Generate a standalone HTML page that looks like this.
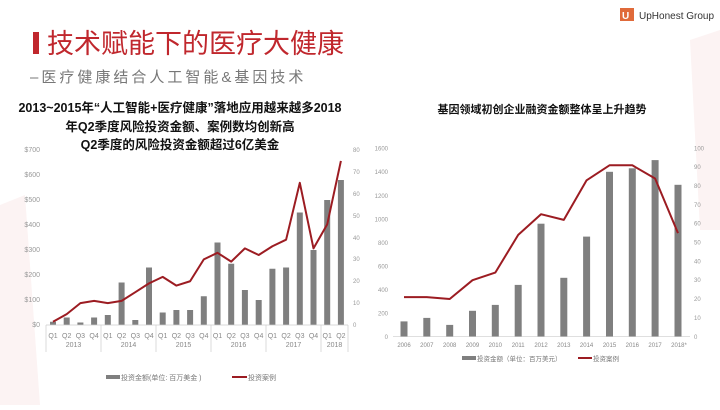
<!DOCTYPE html>
<html><head><meta charset="utf-8"><style>
body{margin:0;width:720px;height:405px;overflow:hidden;background:#fff;font-family:"Liberation Sans","Noto Sans CJK SC",sans-serif}
</style></head><body>
<svg width="720" height="405" viewBox="0 0 720 405" xmlns="http://www.w3.org/2000/svg" font-family="Liberation Sans, Noto Sans CJK SC, sans-serif">
<polygon points="0,405 0,205 25,195 40,405" fill="#fcf3f3"/>
<polygon points="690,40 720,30 720,230 700,230" fill="#fcf3f3"/>
<rect x="33" y="32" width="6" height="22" fill="#c0272d"/>
<text x="47" y="53" font-size="27" fill="#c0272d">技术赋能下的医疗大健康</text>
<text x="30" y="82" font-size="15" fill="#777" letter-spacing="3">–医疗健康结合人工智能&amp;基因技术</text>
<rect x="620" y="8" width="14" height="13" fill="#e06a3a"/>
<text x="622" y="19" font-size="10" fill="#fff" font-weight="bold">U</text>
<text x="639" y="19" font-size="10" fill="#333">UpHonest Group</text>
<g font-size="12.5" fill="#111" text-anchor="middle" font-weight="bold">
<text x="180" y="112">2013~2015年“人工智能+医疗健康”落地应用越来越多2018</text>
<text x="180" y="131">年Q2季度风险投资金额、案例数均创新高</text>
<text x="180" y="149">Q2季度的风险投资金额超过6亿美金</text>
<text x="542" y="113" font-size="11">基因领域初创企业融资金额整体呈上升趋势</text>
</g>
<g font-size="7" fill="#999" text-anchor="end">
<text x="40" y="327">$0</text><text x="40" y="302">$100</text><text x="40" y="277">$200</text><text x="40" y="252">$300</text><text x="40" y="227">$400</text><text x="40" y="202">$500</text><text x="40" y="177">$600</text><text x="40" y="152">$700</text>
</g>
<g font-size="6" fill="#999">
<text x="353" y="327">0</text><text x="353" y="305">10</text><text x="353" y="283">20</text><text x="353" y="261">30</text><text x="353" y="240">40</text><text x="353" y="218">50</text><text x="353" y="196">60</text><text x="353" y="174">70</text><text x="353" y="152">80</text>
</g>
<g fill="#7f7f7f">
<rect x="50" y="321.75" width="6" height="3.25"/><rect x="63.7" y="317.5" width="6" height="7.5"/><rect x="77.4" y="322.5" width="6" height="2.5"/><rect x="91.1" y="317.5" width="6" height="7.5"/><rect x="104.8" y="315" width="6" height="10"/><rect x="118.6" y="282.5" width="6" height="42.5"/><rect x="132.3" y="320" width="6" height="5"/><rect x="146" y="267.5" width="6" height="57.5"/><rect x="159.7" y="312.5" width="6" height="12.5"/><rect x="173.4" y="310" width="6" height="15"/><rect x="187.1" y="310" width="6" height="15"/><rect x="200.8" y="296.25" width="6" height="28.75"/><rect x="214.5" y="242.5" width="6" height="82.5"/><rect x="228.2" y="263.75" width="6" height="61.25"/><rect x="241.9" y="290" width="6" height="35"/><rect x="255.7" y="300" width="6" height="25"/><rect x="269.4" y="268.75" width="6" height="56.25"/><rect x="283.1" y="267.5" width="6" height="57.5"/><rect x="296.8" y="212.5" width="6" height="112.5"/><rect x="310.5" y="250" width="6" height="75"/><rect x="324.2" y="200" width="6" height="125"/><rect x="337.9" y="180" width="6" height="145"/>
</g>
<polyline fill="none" stroke="#9c1c22" stroke-width="2" stroke-linejoin="round" points="53,321.7 66.7,314.1 80.4,303.1 94.1,300.9 107.8,303.1 121.6,300.9 135.3,292.2 149,283.4 162.7,276.9 176.4,285.6 190.1,281.25 203.8,259.4 217.5,252.8 231.2,261.6 244.9,248.4 258.7,255 272.4,246.25 286.1,239.7 299.8,182.8 313.5,248.4 327.2,224.4 340.9,160.9"/>
<line x1="46" y1="325" x2="348" y2="325" stroke="#ccc" stroke-width="0.7"/>
<g stroke="#ccc" stroke-width="0.7">
<line x1="46" y1="325" x2="46" y2="352"/><line x1="101" y1="325" x2="101" y2="352"/><line x1="156" y1="325" x2="156" y2="352"/><line x1="211" y1="325" x2="211" y2="352"/><line x1="266" y1="325" x2="266" y2="352"/><line x1="321" y1="325" x2="321" y2="352"/><line x1="348" y1="325" x2="348" y2="352"/>
</g>
<g font-size="7" fill="#888" text-anchor="middle">
<text x="53" y="338">Q1</text><text x="66.7" y="338">Q2</text><text x="80.4" y="338">Q3</text><text x="94.1" y="338">Q4</text><text x="107.8" y="338">Q1</text><text x="121.6" y="338">Q2</text><text x="135.3" y="338">Q3</text><text x="149" y="338">Q4</text><text x="162.7" y="338">Q1</text><text x="176.4" y="338">Q2</text><text x="190.1" y="338">Q3</text><text x="203.8" y="338">Q4</text><text x="217.5" y="338">Q1</text><text x="231.2" y="338">Q2</text><text x="244.9" y="338">Q3</text><text x="258.7" y="338">Q4</text><text x="272.4" y="338">Q1</text><text x="286.1" y="338">Q2</text><text x="299.8" y="338">Q3</text><text x="313.5" y="338">Q4</text><text x="327.2" y="338">Q1</text><text x="340.9" y="338">Q2</text>
<text x="73.5" y="347">2013</text><text x="128.5" y="347">2014</text><text x="183.5" y="347">2015</text><text x="238.5" y="347">2016</text><text x="293.5" y="347">2017</text><text x="334.5" y="347">2018</text>
</g>
<rect x="106" y="375" width="14" height="4" fill="#7f7f7f"/>
<text x="121" y="380" font-size="7" fill="#777">投资金额(单位: 百万美金 )</text>
<line x1="232" y1="377" x2="247" y2="377" stroke="#9c1c22" stroke-width="2"/>
<text x="248" y="380" font-size="7" fill="#777">投资案例</text>
<g font-size="6" fill="#999" text-anchor="end">
<text x="388" y="339">0</text><text x="388" y="315.5">200</text><text x="388" y="292">400</text><text x="388" y="268.4">600</text><text x="388" y="244.9">800</text><text x="388" y="221.3">1000</text><text x="388" y="197.8">1200</text><text x="388" y="174.2">1400</text><text x="388" y="150.7">1600</text>
</g>
<g font-size="6" fill="#999">
<text x="694" y="339">0</text><text x="694" y="320">10</text><text x="694" y="301">20</text><text x="694" y="282.2">30</text><text x="694" y="263.4">40</text><text x="694" y="244.5">50</text><text x="694" y="225.7">60</text><text x="694" y="206.8">70</text><text x="694" y="188">80</text><text x="694" y="169.2">90</text><text x="694" y="150.3">100</text>
</g>
<g fill="#7f7f7f">
<rect x="400.5" y="321.4" width="7" height="15.3"/><rect x="423.3" y="317.9" width="7" height="18.8"/><rect x="446.2" y="324.9" width="7" height="11.8"/><rect x="469" y="310.8" width="7" height="25.9"/><rect x="491.8" y="304.9" width="7" height="31.8"/><rect x="514.7" y="284.9" width="7" height="51.8"/><rect x="537.5" y="223.7" width="7" height="113"/><rect x="560.3" y="277.8" width="7" height="58.9"/><rect x="583.1" y="236.6" width="7" height="100.1"/><rect x="606" y="171.8" width="7" height="164.9"/><rect x="628.8" y="168.3" width="7" height="168.4"/><rect x="651.6" y="160.1" width="7" height="176.6"/><rect x="674.5" y="184.8" width="7" height="151.9"/>
</g>
<polyline fill="none" stroke="#9c1c22" stroke-width="2" stroke-linejoin="round" points="404,297.1 426.8,297.1 449.7,299 472.5,280.2 495.3,272.6 518.2,234.9 541,214.2 563.8,219.9 586.6,180.3 609.5,165.3 632.3,165.3 655.1,178.5 678,233.1"/>
<line x1="393" y1="336.7" x2="690" y2="336.7" stroke="#ccc" stroke-width="0.7"/>
<g font-size="6" fill="#888" text-anchor="middle">
<text x="404" y="347">2006</text><text x="426.8" y="347">2007</text><text x="449.7" y="347">2008</text><text x="472.5" y="347">2009</text><text x="495.3" y="347">2010</text><text x="518.2" y="347">2011</text><text x="541" y="347">2012</text><text x="563.8" y="347">2013</text><text x="586.6" y="347">2014</text><text x="609.5" y="347">2015</text><text x="632.3" y="347">2016</text><text x="655.1" y="347">2017</text><text x="679" y="347">2018*</text>
</g>
<rect x="462" y="356" width="14" height="4" fill="#7f7f7f"/>
<text x="477" y="361" font-size="6.5" fill="#777">投资金额（单位：百万美元）</text>
<line x1="578" y1="358" x2="592" y2="358" stroke="#9c1c22" stroke-width="2"/>
<text x="593" y="361" font-size="6.5" fill="#777">投资案例</text>
</svg>
</body></html>
